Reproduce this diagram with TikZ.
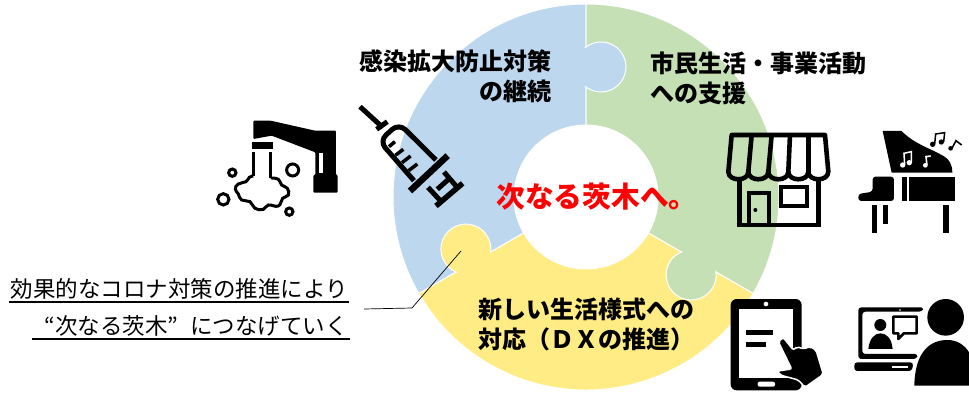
\documentclass[tikz,border=0pt]{standalone}
\usepackage{fontspec}
\usepackage{xcolor}
\usetikzlibrary{positioning,calc}
\newfontfamily\jpfont{Noto Sans CJK JP}
\definecolor{sectorblue}{HTML}{BDD7EE}
\definecolor{sectorgreen}{HTML}{C5E0B4}
\definecolor{sectoryellow}{HTML}{FFEC85}
\definecolor{mottored}{HTML}{FF0000}

\begin{document}
\begin{tikzpicture}[
    x=1pt, y=1pt,
    sector/.style={draw=white, line width=1pt},
    tab/.style={draw=white, line width=1pt},
    leadline/.style={line width=0.7pt, black},
    underline/.style={line width=1.5pt, black},
    heading/.style={font=\jpfont\bfseries\fontsize{24}{30}\selectfont, align=left, inner sep=0pt},
    motto/.style={font=\jpfont\bfseries\fontsize{28.7}{32}\selectfont, text=mottored, inner sep=0pt},
    remark/.style={font=\jpfont\fontsize{22.5}{26}\selectfont, inner sep=0pt, anchor=base east},
    iconleft/.style={shift={(200,302)}, x=0.3333pt, y=-0.3333pt},
    iconright/.style={shift={(710,272)}, x=0.3333pt, y=-0.3333pt},
    iconlower/.style={shift={(710,107)}, x=0.3333pt, y=-0.3333pt},
    stroke/.style={draw=black, line width=3.5pt},
    thinstroke/.style={draw=black, line width=3pt},
    shopline/.style={draw=black, line width=4.6pt}
]
    \useasboundingbox (0,0) rectangle (969,392);
    \clip (0,0) rectangle (969,392);
    \coordinate (hub) at (586,195);

    % Ring pieces
    \draw [sector, fill=sectorblue] ($(hub)+(90:193)$) arc[start angle=90, end angle=210, radius=193] -- ($(hub)+(210:72)$) arc[start angle=210, end angle=90, radius=72] -- cycle;
    \draw [sector, fill=sectorgreen] ($(hub)+(90:193)$) arc[start angle=90, end angle=-30, radius=193] -- ($(hub)+(-30:72)$) arc[start angle=-30, end angle=90, radius=72] -- cycle;
    \draw [sector, fill=sectoryellow] ($(hub)+(-30:193)$) arc[start angle=-30, end angle=-150, radius=193] -- ($(hub)+(210:72)$) arc[start angle=210, end angle=330, radius=72] -- cycle;

    % Puzzle tabs
    \draw [tab, fill=sectorblue] (584.9,344.2) arc[start angle=130, end angle=-130, radius=25];
    \draw [tab, fill=sectorgreen, rotate around={-120:(hub)}] (584.9,344.2) arc[start angle=130, end angle=-130, radius=25];
    \draw [tab, fill=sectoryellow, rotate around={120:(hub)}] (584.9,344.2) arc[start angle=130, end angle=-130, radius=25];

    % Labels
    \node [heading, align=right, anchor=north east] (prevention) at (552,343) {感染拡大防止対策\\の継続};
    \node [heading, anchor=north west] (support) at (650,340) {市民生活・事業活動\\への支援};
    \node [heading, anchor=north west] (lifestyle) at (478,94) {新しい生活様式への\\対応（ＤＸの推進）};
    \node [motto] (nextibaraki) at (597,195) {次なる茨木へ。};

    % Remark with lead line
    \node [remark] (remarkone) at (348,95) {効果的なコロナ対策の推進により};
    \node [remark] (remarktwo) at (348,58) {“次なる茨木”\hspace{12pt}につなげていく};
    \coordinate (underonea) at (9,90);
    \coordinate (underoneb) at (349,90);
    \coordinate (undertwoa) at (32,53);
    \coordinate (undertwob) at (350,53);
    \draw [underline] (underonea) -- (underoneb);
    \draw [underline] (undertwoa) -- (undertwob);
    \coordinate (leadstart) at (364,83);
    \coordinate (leadbend) at (412,84);
    \coordinate (leadend) at (461,141);
    \draw [leadline] (leadstart) -- (leadbend) -- (leadend);

    % Tap
    \begin{scope}[iconleft]
        \fill [rounded corners=1pt] (160,92) -- (212,92) -- (345,122) -- (408,122) -- (408,255) -- (413,255) -- (413,308) -- (340,308) -- (340,255) -- (346,255) -- (346,187) -- (215,137) -- (160,147) -- cycle;
        \fill [white] (357,190) rectangle (368,250);
        \fill (155,155) rectangle (218,177);
        \draw [thinstroke] (160,187) -- (160,258);
        \draw [thinstroke] (212,187) -- (212,264);
        \draw [thinstroke] plot[smooth, tension=0.8] coordinates {(160,258) (148,262) (138,275) (115,282) (106,297) (115,312) (125,330) (150,335) (165,355) (190,358) (205,345) (235,348) (248,325) (265,315) (262,295) (245,285) (235,268) (212,264)};
        \draw [thinstroke] (97,248) circle[radius=11];
        \draw [thinstroke] (278,240) circle[radius=18];
        \draw [thinstroke] (70,328) circle[radius=17];
        \draw [thinstroke] (268,365) circle[radius=11];
    \end{scope}

    % Syringe
    \begin{scope}[iconleft]
        \draw [stroke, line width=5pt] (480,50) -- (548,112);
        \draw [stroke, line width=5pt] (530,118) -- (562,95);
        \draw [stroke, line width=5pt, rounded corners=9pt, line join=round] (708,210) -- (597,100) -- (538,153) -- (642,272);
        \draw [stroke] (567,170) -- (585,155);
        \draw [stroke] (586,196) -- (610,178);
        \draw [stroke] (606,218) -- (632,198);
        \draw [stroke] (626,242) -- (652,222);
        \draw [stroke, line width=6.5pt] (630,303) -- (743,197);
        \draw [stroke, line width=5.5pt] (708,348) -- (788,280);
        \draw [stroke, line width=5pt] (684,292) -- (722,333);
        \draw [stroke, line width=5pt] (732,246) -- (770,290);
        \draw [stroke, line width=5pt] (712,298) -- (752,262);
    \end{scope}

    % Shop
    \begin{scope}[iconright]
        \draw [shopline, line join=round] (65,45) -- (345,45) -- (355,155) to[out=-90, in=-90, looseness=1.3] (295,155) to[out=-90, in=-90, looseness=1.3] (235,155) to[out=-90, in=-90, looseness=1.3] (175,155) to[out=-90, in=-90, looseness=1.3] (115,155) to[out=-90, in=-90, looseness=1.3] (55,155) -- cycle;
        \draw [shopline] (125,45) -- (115,155);
        \draw [shopline] (185,45) -- (175,155);
        \draw [shopline] (240,45) -- (235,155);
        \draw [shopline] (295,45) -- (295,155);
        \draw [shopline] (88,175) -- (88,315);
        \draw [shopline] (325,175) -- (325,315);
        \draw [shopline] (80,315) -- (332,315);
        \draw [shopline, line width=4pt] (116,315) -- (116,220) -- (178,220) -- (178,315);
        \fill (136,270) circle[radius=6];
        \draw [shopline, line width=4pt] (212,202) rectangle (292,258);
    \end{scope}

    % Piano
    \begin{scope}[iconright]
        \fill (518,33) -- (575,33) .. controls (610,70) and (660,85) .. (695,105) .. controls (720,118) and (727,135) .. (727,158) -- (545,158) -- cycle;
        \fill [rounded corners=3pt] (488,170) -- (552,170) -- (552,243) -- (445,243) -- (445,222) -- (488,215) -- cycle;
        \fill (577,170) rectangle (592,243);
        \fill (598,170) rectangle (735,243);
        \fill (487,255) rectangle (502,338);
        \fill (520,255) rectangle (535,312);
        \fill (700,255) rectangle (716,338);
        \fill [white] (578,135) circle[radius=8];
        \fill [white] (598,128) circle[radius=8];
        \draw [white, line width=1.5pt] (584,135) -- (582,100) -- (604,95) -- (604,128);
        \fill [white] (646,136) circle[radius=7];
        \draw [white, line width=1.6pt] (651,136) -- (648,110) -- (662,108);
        \fill (668,73) circle[radius=8];
        \fill (694,66) circle[radius=8];
        \draw [line width=1.5pt] (674,73) -- (677,42) -- (704,38) -- (701,66);
        \fill (722,85) circle[radius=7];
        \draw [line width=1.6pt] (726,85) -- (738,62) -- (755,75);
    \end{scope}

    % Tablet
    \begin{scope}[iconlower]
        \fill [rounded corners=6pt] (62,42) rectangle (275,316);
        \fill [white] (88,72) rectangle (250,278);
        \fill [white] (168,57) circle[radius=7];
        \fill [white, rounded corners=2pt] (143,290) rectangle (195,305);
        \fill (108,135) rectangle (188,151);
        \fill (108,172) rectangle (168,187);
        \draw [fill=black, draw=white, line width=1.5pt, rounded corners=2pt] (205,170) -- (220,158) -- (250,195) -- (262,185) -- (280,192) -- (300,185) -- (318,195) -- (340,268) -- (285,307) -- (265,285) -- (210,270) -- (203,258) -- (245,252) -- cycle;
    \end{scope}

    % Video call
    \begin{scope}[iconlower]
        \fill [rounded corners=3pt] (445,67) -- (642,67) -- (636,80) -- (457,80) -- (457,207) -- (624,207) -- (620,222) -- (445,222) -- cycle;
        \fill [white] (570,75) circle[radius=2.5];
        \fill [rounded corners=3pt] (433,232) -- (610,232) -- (606,258) -- (433,258) -- cycle;
        \fill [white] (545,242) rectangle (593,248);
        \fill (511,120) circle[radius=18];
        \fill (475,192) .. controls (478,160) and (495,145) .. (511,145) .. controls (530,145) and (545,160) .. (548,192) -- cycle;
        \draw [stroke, line width=2.6pt, line join=round] (550,95) -- (620,95) -- (620,145) -- (582,145) -- (565,162) -- (565,145) -- (550,145) -- cycle;
        \fill (707,97) circle[radius=55];
        \fill (613,302) .. controls (615,200) and (660,165) .. (712,165) .. controls (770,165) and (800,220) .. (800,302) -- cycle;
    \end{scope}
\end{tikzpicture}
\end{document}
